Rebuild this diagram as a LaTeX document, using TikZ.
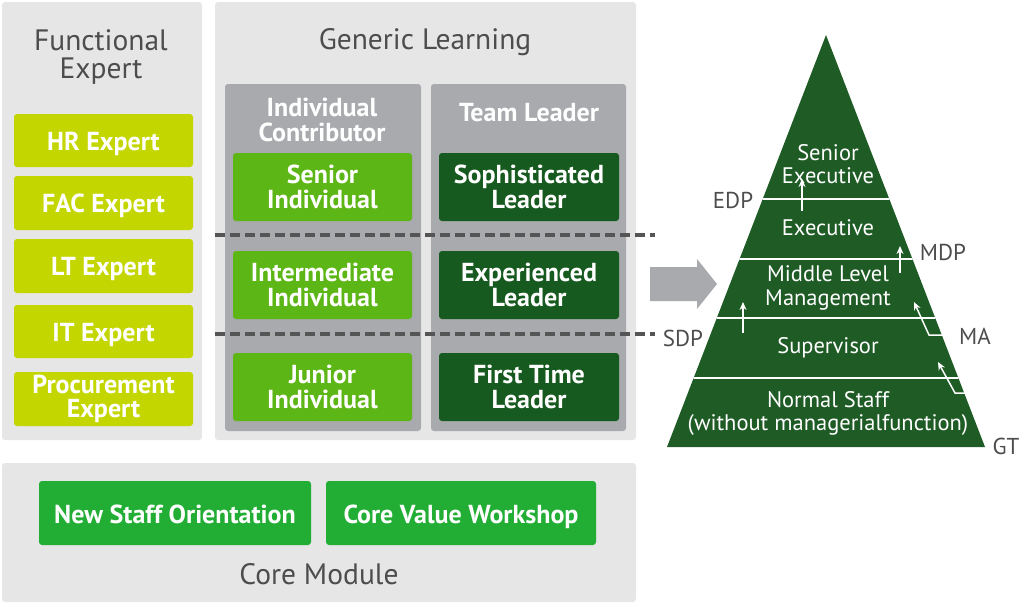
\documentclass[tikz,border=0pt]{standalone}
\usepackage{fontspec}
\setmainfont{PT Sans}
\usetikzlibrary{arrows.meta}
\definecolor{panelgray}{HTML}{E6E6E6}
\definecolor{colgray}{HTML}{A8AAAD}
\definecolor{titlegray}{HTML}{4D4D4D}
\definecolor{ygreen}{HTML}{C4D600}
\definecolor{lgreen}{HTML}{5CB615}
\definecolor{dgreen}{HTML}{165A1F}
\definecolor{cgreen}{HTML}{22AE35}
\definecolor{trigreen}{HTML}{1E5B25}
\definecolor{dashgray}{HTML}{555555}
\newcommand\boxfnt{\fontsize{26}{24.5}\selectfont\bfseries}
\newcommand\ttlfnt{\fontsize{29.5}{28}\selectfont}
\newcommand\trifnt{\fontsize{22.5}{23.5}\selectfont}
\newcommand\lblfnt{\fontsize{23}{22}\selectfont}
\tikzset{
  panel/.style={fill=panelgray, rounded corners=3pt},
  colpanel/.style={fill=colgray, rounded corners=3pt},
  basebox/.style={rounded corners=3pt, text=white, font=\boxfnt, align=center, inner sep=0pt},
  single/.style={text height=19pt, text depth=0pt},
  ybox/.style={basebox, fill=ygreen, minimum width=179pt, minimum height=53pt},
  lbox/.style={basebox, fill=lgreen, minimum width=179pt, minimum height=68pt},
  dbox/.style={basebox, fill=dgreen, minimum width=180pt, minimum height=68pt},
  cbox/.style={basebox, fill=cgreen, minimum height=64pt, text height=21pt, text depth=0pt},
  ptitle/.style={text=titlegray, font=\ttlfnt, align=center, inner sep=0pt},
  ctitle/.style={text=white, font=\boxfnt, align=center, inner sep=0pt},
  tritext/.style={text=white, font=\trifnt, align=center, inner sep=0pt},
  lbl/.style={text=titlegray, font=\lblfnt, inner sep=0pt},
  dashline/.style={dashgray, line width=3.5pt, dash pattern=on 10pt off 5pt},
  warrow/.style={white, line width=1.5pt, -{Stealth[length=8pt,width=7pt]}},
}
\begin{document}
\begin{tikzpicture}[x=1pt,y=-1pt]
\useasboundingbox (0,0) rectangle (1024,606);
% panels
\fill[panel] (2,2) rectangle (202,440);
\fill[panel] (215,2) rectangle (636,440);
\fill[panel] (2,463) rectangle (636,602);
\fill[colpanel] (225,84) rectangle (421,431);
\fill[colpanel] (431,84) rectangle (626,431);
% titles
\node[ptitle] (tfe) at (101,57) {Functional\\Expert};
\node[ptitle] (tgl) at (425,42) {Generic Learning};
\node[ptitle] (tcm) at (319,574) {Core Module};
\node[ctitle] (tic) at (322,120) {Individual\\Contributor};
\node[ctitle] (ttl) at (529,113) {Team Leader};
% functional experts
\node[ybox, single] (hr) at (103.5,140.5) {HR Expert};
\node[ybox, single, minimum height=54pt] (fac) at (103.5,203) {FAC Expert};
\node[ybox, single, minimum height=54pt] (lt) at (103.5,266) {LT Expert};
\node[ybox, single] (it) at (103.5,331.5) {IT Expert};
\node[ybox, minimum height=54pt] (proc) at (103.5,399) {Procurement\\Expert};
% individual contributor
\node[lbox] (si) at (322.5,187) {Senior\\Individual};
\node[lbox] (ii) at (322.5,285) {Intermediate\\Individual};
\node[lbox] (ji) at (322.5,387) {Junior\\Individual};
% team leader
\node[dbox] (sl) at (529,187) {Sophisticated\\Leader};
\node[dbox] (el) at (529,285) {Experienced\\Leader};
\node[dbox] (fl) at (529,387) {First Time\\Leader};
% dashed lines
\coordinate (d1a) at (215,235); \coordinate (d1b) at (655,235);
\coordinate (d2a) at (215,334); \coordinate (d2b) at (655,334);
\draw[dashline] (d1a) -- (d1b);
\draw[dashline] (d2a) -- (d2b);
% core module
\node[cbox, minimum width=272pt] (nso) at (175,513) {New Staff Orientation};
\node[cbox, minimum width=270pt] (cvw) at (461,513) {Core Value Workshop};
% big gray arrow
\fill[colgray] (650,267) -- (697,267) -- (697,259) -- (717,284) -- (697,309) -- (697,301) -- (650,301) -- cycle;
% pyramid
\fill[trigreen] (826,35) -- (985,447) -- (667,447) -- cycle;
\begin{scope}
\clip (826,35) -- (985,447) -- (667,447) -- cycle;
\foreach \yy in {199,259,318,378} \draw[white, line width=1.2pt] (600,\yy) -- (1020,\yy);
\end{scope}
\node[tritext] (se) at (828,164) {Senior\\Executive};
\node[tritext] (ex) at (828,228) {Executive};
\node[tritext] (ml) at (828,288) {Middle Level\\Management};
\node[tritext] (sv) at (828,348) {Supervisor};
\node[tritext] (ns) at (828,413.5) {Normal Staff\\(without managerialfunction)};
% side labels
\node[lbl] (edp) at (733,200) {EDP};
\node[lbl] (mdp) at (943,252) {MDP};
\node[lbl] (sdp) at (683,338) {SDP};
\node[lbl] (ma) at (975,336) {MA};
\node[lbl] (gt) at (1006,446) {GT};
% small arrows
\coordinate (a1s) at (802,211); \coordinate (a1e) at (802,179);
\coordinate (a2s) at (900,273); \coordinate (a2e) at (900,246);
\coordinate (a3s) at (743,333); \coordinate (a3e) at (743,302);
\coordinate (a4s) at (943,335); \coordinate (a4m) at (929,335); \coordinate (a4e) at (914,302);
\coordinate (a5s) at (966,393); \coordinate (a5m) at (955,393); \coordinate (a5e) at (938,362);
\draw[warrow] (a1s) -- (a1e);
\draw[warrow] (a2s) -- (a2e);
\draw[warrow] (a3s) -- (a3e);
\draw[warrow] (a4s) -- (a4m) -- (a4e);
\draw[warrow] (a5s) -- (a5m) -- (a5e);
\end{tikzpicture}
\end{document}
